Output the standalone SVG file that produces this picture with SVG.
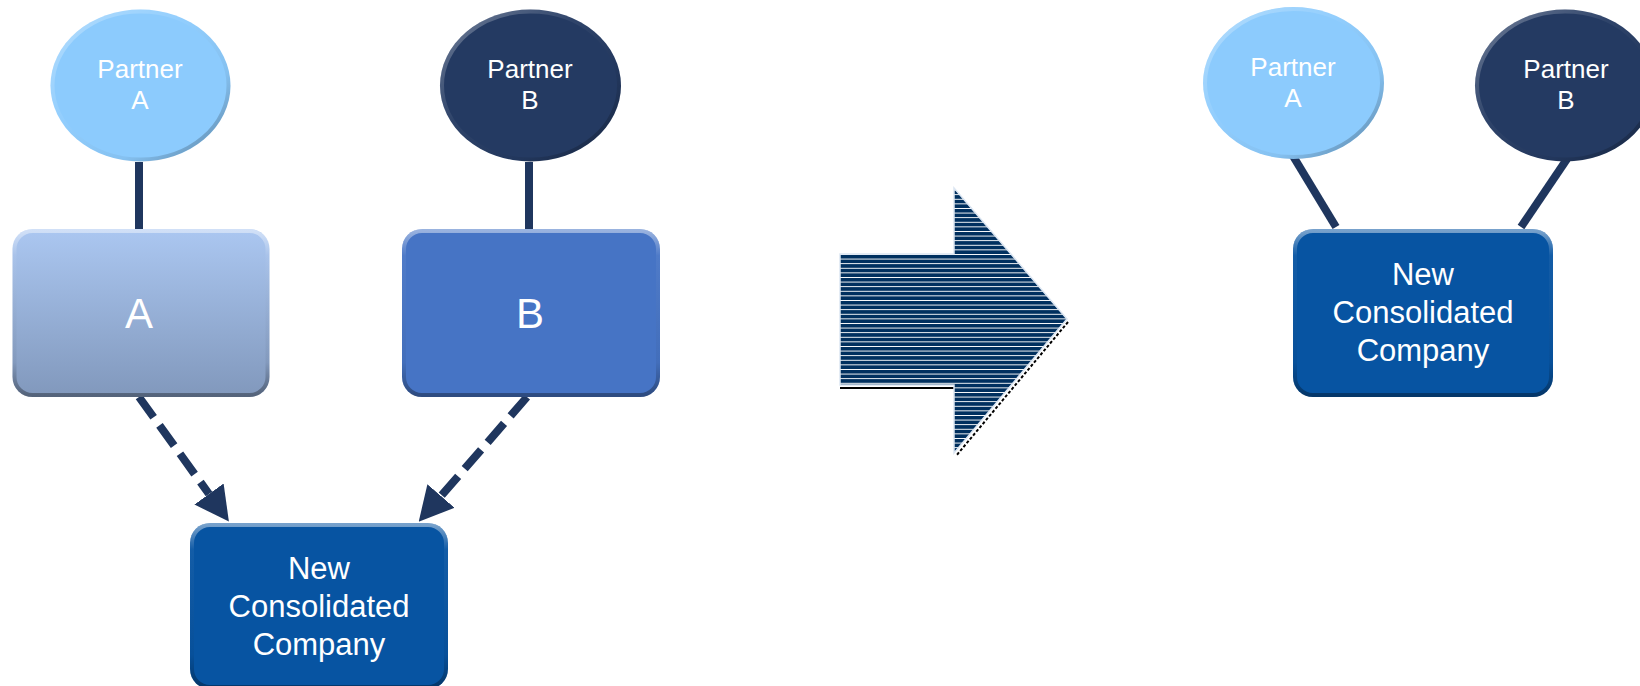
<svg xmlns="http://www.w3.org/2000/svg" width="1640" height="686" viewBox="0 0 1640 686">
<defs>
<style>
.lbl{font-family:"Liberation Sans",Arial,sans-serif;fill:#ffffff;text-anchor:middle}
.p{font-size:26px}
.big{font-size:42px}
.nc{font-size:31px}
.conn{stroke:#1F365E;stroke-width:8;fill:none}
.dash{stroke-dasharray:25 10}
.rim{fill:none;stroke-width:4}
</style>
<linearGradient id="gA" x1="0" y1="0" x2="0" y2="1">
<stop offset="0" stop-color="#ABC7F1"/>
<stop offset="1" stop-color="#8198BC"/>
</linearGradient>
<linearGradient id="rimG" x1="0" y1="0" x2="0" y2="1">
<stop offset="0" stop-color="#ffffff" stop-opacity="0.45"/>
<stop offset="0.15" stop-color="#ffffff" stop-opacity="0.05"/>
<stop offset="0.8" stop-color="#000000" stop-opacity="0.05"/>
<stop offset="1" stop-color="#000000" stop-opacity="0.35"/>
</linearGradient>
<linearGradient id="rimE" x1="0" y1="0" x2="1" y2="1">
<stop offset="0" stop-color="#ffffff" stop-opacity="0.35"/>
<stop offset="0.4" stop-color="#ffffff" stop-opacity="0.05"/>
<stop offset="0.7" stop-color="#000000" stop-opacity="0.05"/>
<stop offset="1" stop-color="#000000" stop-opacity="0.35"/>
</linearGradient>
<pattern id="stripes" patternUnits="userSpaceOnUse" width="20" height="4.6" y="254">
<rect width="20" height="4.6" fill="#00305F" shape-rendering="crispEdges"/>
<rect y="0" width="20" height="1" fill="#ffffff" shape-rendering="crispEdges"/>
</pattern>
<marker id="ah" markerUnits="userSpaceOnUse" markerWidth="34" markerHeight="36" viewBox="0 -18 34 36" refX="0" refY="0" orient="auto">
<path d="M0,-18 L34,0 L0,18 z" fill="#1F365E"/>
</marker>
</defs>

<g id="connectors">
<line class="conn" x1="139" y1="162" x2="139" y2="230"/>
<line class="conn" x1="529" y1="162" x2="529" y2="230"/>
<line class="conn dash" x1="139" y1="397" x2="209" y2="494" marker-end="url(#ah)"/>
<line class="conn dash" x1="527" y1="397" x2="441" y2="496" marker-end="url(#ah)"/>
<line class="conn" x1="1293" y1="156" x2="1336" y2="227"/>
<line class="conn" x1="1567" y1="159" x2="1521" y2="227"/>
</g>

<g id="partnerA-left">
<ellipse cx="140.5" cy="85.5" rx="90" ry="76" fill="#8CCBFD"/>
<ellipse cx="140.5" cy="85.5" rx="88" ry="74" class="rim" stroke="url(#rimE)"/>
<text class="lbl p" x="140" y="78">Partner</text>
<text class="lbl p" x="140" y="109">A</text>
</g>

<g id="partnerB-left">
<ellipse cx="530.5" cy="85.5" rx="90.5" ry="76" fill="#243A62"/>
<ellipse cx="530.5" cy="85.5" rx="88.5" ry="74" class="rim" stroke="url(#rimE)"/>
<text class="lbl p" x="530" y="78">Partner</text>
<text class="lbl p" x="530" y="109">B</text>
</g>

<g id="boxA">
<rect x="12.5" y="229" width="257" height="168" rx="20" fill="url(#gA)"/>
<rect x="14.5" y="231" width="253" height="164" rx="18" class="rim" stroke="url(#rimG)"/>
<text class="lbl big" x="139" y="328">A</text>
</g>

<g id="boxB">
<rect x="402" y="229" width="258" height="168" rx="20" fill="#4674C5"/>
<rect x="404" y="231" width="254" height="164" rx="18" class="rim" stroke="url(#rimG)"/>
<text class="lbl big" x="530" y="328">B</text>
</g>

<g id="newco-left">
<rect x="190" y="523" width="258" height="166" rx="20" fill="#0754A2"/>
<rect x="192" y="525" width="254" height="162" rx="18" class="rim" stroke="url(#rimG)"/>
<text class="lbl nc" x="319" y="579">New</text>
<text class="lbl nc" x="319" y="617">Consolidated</text>
<text class="lbl nc" x="319" y="655">Company</text>
</g>

<g id="bigArrow">
<path d="M840,388 L954,388" stroke="#000000" stroke-width="2"/>
<path d="M1068,322 L956,456" stroke="#000000" stroke-width="2" stroke-dasharray="3 2"/>
<polygon points="840,254 954,254 954,188 1067,319 954,453 954,385 840,385" fill="url(#stripes)" stroke="#DCE6F2" stroke-width="1.5"/>
</g>

<g id="partnerA-right">
<ellipse cx="1293.5" cy="83" rx="90.5" ry="76" fill="#8CCBFD"/>
<ellipse cx="1293.5" cy="83" rx="88.5" ry="74" class="rim" stroke="url(#rimE)"/>
<text class="lbl p" x="1293" y="76">Partner</text>
<text class="lbl p" x="1293" y="107">A</text>
</g>

<g id="partnerB-right">
<ellipse cx="1565" cy="85.5" rx="90" ry="76" fill="#243A62"/>
<ellipse cx="1565" cy="85.5" rx="88" ry="74" class="rim" stroke="url(#rimE)"/>
<text class="lbl p" x="1566" y="78">Partner</text>
<text class="lbl p" x="1566" y="109">B</text>
</g>

<g id="newco-right">
<rect x="1293" y="229" width="260" height="168" rx="20" fill="#0754A2"/>
<rect x="1295" y="231" width="256" height="164" rx="18" class="rim" stroke="url(#rimG)"/>
<text class="lbl nc" x="1423" y="285">New</text>
<text class="lbl nc" x="1423" y="323">Consolidated</text>
<text class="lbl nc" x="1423" y="361">Company</text>
</g>
</svg>
